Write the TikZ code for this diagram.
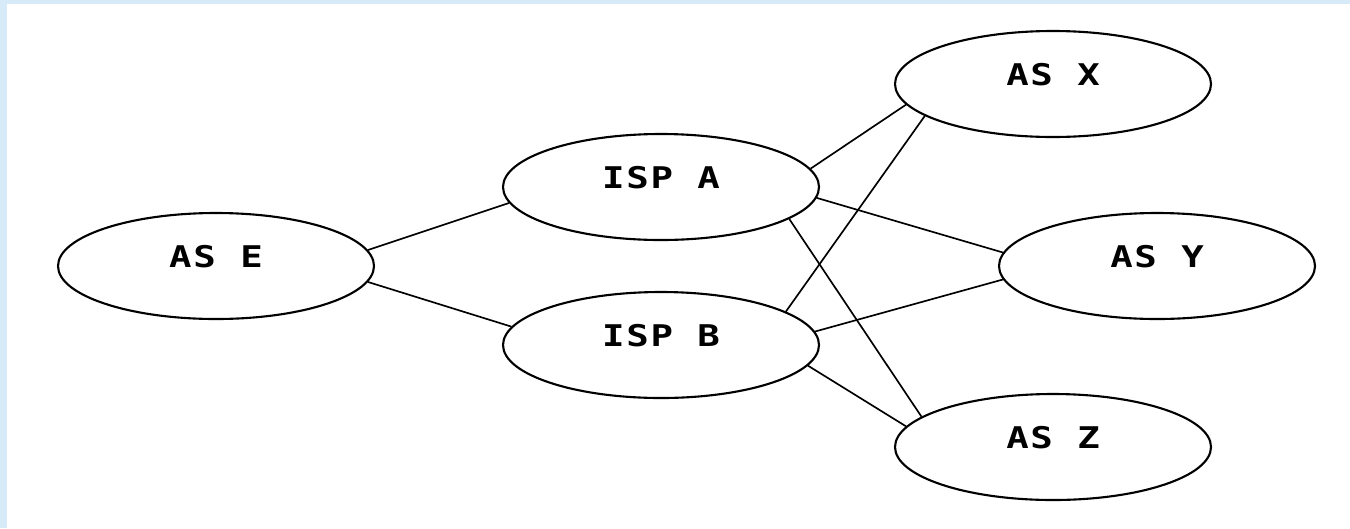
\documentclass[tikz,border=0pt]{standalone}
\usepackage{fontspec}
\newfontfamily\pixfont[LetterSpace=6,FakeStretch=1.25]{DejaVu Sans Mono}
\usetikzlibrary{shapes.geometric}
\definecolor{bgblue}{RGB}{214,234,247}
\tikzset{
  asnode/.style={ellipse, draw=black, line width=1.2pt, minimum width=6.32cm, minimum height=2.12cm,
    inner sep=0pt, font=\pixfont\bfseries\fontsize{17pt}{17pt}\selectfont, text height=0.44cm, text depth=0.40cm},
  link/.style={draw=black, line width=0.95pt}
}
\begin{document}
\begin{tikzpicture}
\useasboundingbox (0,0) rectangle (27,-10.56);
\fill[white] (0,0) rectangle (27,-10.56);
\fill[bgblue] (0,0) rectangle (0.14,-10.56);
\fill[bgblue] (0,0) rectangle (27,-0.08);
\node[asnode] (E) at (4.32,-5.32) {AS E};
\node[asnode] (A) at (13.22,-3.74) {ISP A};
\node[asnode] (B) at (13.22,-6.90) {ISP B};
\node[asnode] (X) at (21.06,-1.68) {AS X};
\node[asnode] (Y) at (23.14,-5.32) {AS Y};
\node[asnode] (Z) at (21.06,-8.94) {AS Z};
\draw[link] (E.6) -- (A.186.3);
\draw[link] (E.-6.4) -- (B.173.3);
\draw[link] (A.7.8) -- (X.188.2);
\draw[link] (A.-4.8) -- (Y.175.2);
\draw[link] (A.-14.3) -- (Z.167);
\draw[link] (B.15.2) -- (X.194.2);
\draw[link] (B.5.6) -- (Y.185.2);
\draw[link] (B.-8.6) -- (Z.172.2);
\end{tikzpicture}
\end{document}
